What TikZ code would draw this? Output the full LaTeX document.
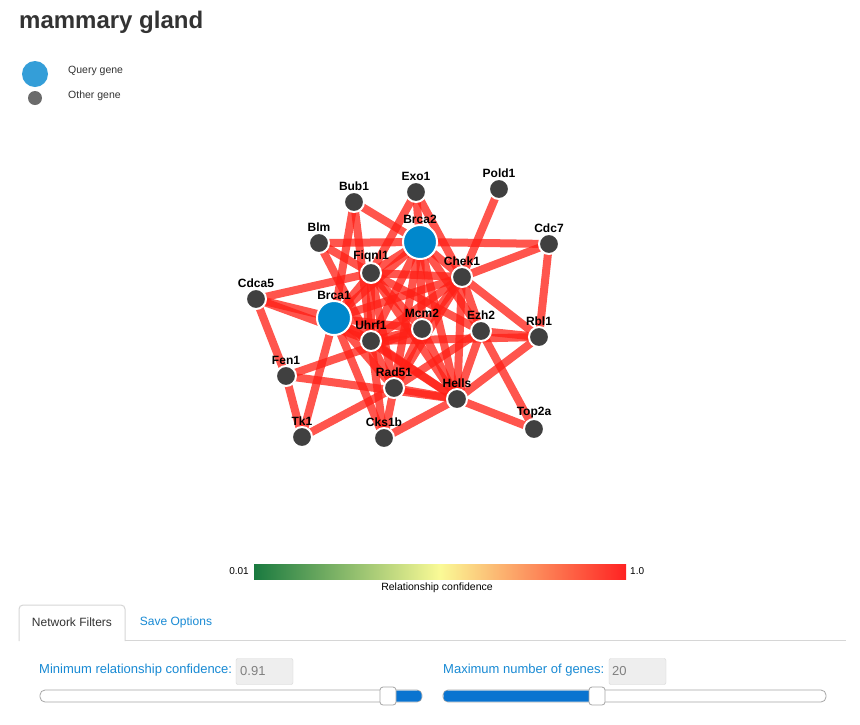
\documentclass[tikz,border=0pt]{standalone}
\usepackage{fontspec}
\setmainfont{Liberation Sans}
\usetikzlibrary{backgrounds}
\definecolor{edgered}{RGB}{255,32,22}
\definecolor{genegray}{RGB}{64,64,64}
\definecolor{queryblue}{RGB}{0,136,204}
\definecolor{legblue}{RGB}{52,158,216}
\definecolor{leggray}{RGB}{107,107,107}
\definecolor{txt}{RGB}{51,51,51}
\definecolor{linkblue}{RGB}{24,138,212}
\definecolor{barred}{RGB}{255,34,34}
\definecolor{bargreen}{RGB}{26,122,64}
\definecolor{baryellow}{RGB}{250,250,150}
\definecolor{boxgray}{RGB}{238,238,238}
\definecolor{bordergray}{RGB}{214,214,214}
\definecolor{sliderblue}{RGB}{10,116,208}
\tikzset{
  gene/.style={circle, fill=genegray, draw=white, line width=2pt, minimum size=20pt, inner sep=0pt},
  query/.style={circle, fill=queryblue, draw=white, line width=2pt, minimum size=34pt, inner sep=0pt},
  lbl/.style={font=\fontsize{12}{14}\selectfont\bfseries, text=black, inner sep=0pt},
  edge/.style={draw=edgered, line width=8pt, opacity=0.76},
  smalltxt/.style={font=\fontsize{10.5}{12}\selectfont, text=txt, inner sep=0pt},
  uitxt/.style={font=\fontsize{13}{15}\selectfont, inner sep=0pt},
  tabtxt/.style={font=\fontsize{12}{14}\selectfont, inner sep=0pt},
  inbox/.style={draw=bordergray, fill=boxgray, rounded corners=2pt, minimum width=57pt, minimum height=26pt, inner sep=0pt},
  track/.style={draw=gray!70, fill=white, rounded corners=5pt, line width=0.8pt},
  handle/.style={draw=gray!70, fill=white, rounded corners=3pt, minimum width=16pt, minimum height=18pt, inner sep=0pt, line width=0.8pt}
}
\begin{document}
\begin{tikzpicture}[x=1pt,y=-1pt]
\useasboundingbox (0,0) rectangle (860,724);
\begin{scope}[on background layer]
  \fill[white] (0,0) rectangle (860,724);
\end{scope}

% title
\node[anchor=west, font=\fontsize{24}{28}\selectfont\bfseries, text=txt, inner sep=0pt] (title) at (19,22) {mammary gland};

% legend
\node[circle, fill=legblue, minimum size=26pt, inner sep=0pt] (legq) at (35,74) {};
\node[circle, fill=leggray, minimum size=14pt, inner sep=0pt] (lego) at (35,98) {};
\node[smalltxt, anchor=west] (legqt) at (68,71) {Query gene};
\node[smalltxt, anchor=west] (legot) at (68,96) {Other gene};

% genes
\node[gene, label={[lbl]above:Bub1}] (Bub1) at (354,202) {};
\node[gene, label={[lbl]above:Exo1}] (Exo1) at (416,192) {};
\node[gene, label={[lbl]above:Pold1}] (Pold1) at (499,189) {};
\node[query, label={[lbl]above:Brca2}] (Brca2) at (420,242) {};
\node[gene, label={[lbl]above:Blm}] (Blm) at (319,243) {};
\node[gene, label={[lbl]above:Cdc7}] (Cdc7) at (549,244) {};
\node[gene, label={[lbl]above:Fiqnl1}] (Fiqnl1) at (371,273) {};
\node[gene, label={[lbl]above:Chek1}] (Chek1) at (462,277) {};
\node[gene, label={[lbl]above:Cdca5}] (Cdca5) at (256,299) {};
\node[query, label={[lbl]above:Brca1}] (Brca1) at (334,318) {};
\node[gene, label={[lbl]above:Mcm2}] (Mcm2) at (422,329) {};
\node[gene, label={[lbl]above:Ezh2}] (Ezh2) at (481,331) {};
\node[gene, label={[lbl]above:Rbl1}] (Rbl1) at (539,337) {};
\node[gene, label={[lbl]above:Uhrf1}] (Uhrf1) at (371,341) {};
\node[gene, label={[lbl]above:Fen1}] (Fen1) at (286,376) {};
\node[gene, label={[lbl]above:Rad51}] (Rad51) at (394,388) {};
\node[gene, label={[lbl]above:Hells}] (Hells) at (457,399) {};
\node[gene, label={[lbl]above:Top2a}] (Top2a) at (534,429) {};
\node[gene, label={[lbl]above:Tk1}] (Tk1) at (302,437) {};
\node[gene, label={[lbl]above:Cks1b}] (Cks1b) at (384,438) {};

% edges
\begin{scope}[on background layer]
  \foreach \a/\b in {
    Brca2/Bub1, Brca2/Exo1, Brca2/Blm, Brca2/Cdc7, Brca2/Fiqnl1, Brca2/Brca1,
    Brca2/Uhrf1, Brca2/Mcm2, Brca2/Chek1, Brca2/Ezh2, Brca2/Rad51, Brca2/Hells,
    Chek1/Exo1, Chek1/Pold1, Chek1/Cdc7, Chek1/Fiqnl1, Chek1/Brca1, Chek1/Uhrf1,
    Chek1/Mcm2, Chek1/Rad51, Chek1/Hells, Chek1/Ezh2, Chek1/Rbl1,
    Fiqnl1/Blm, Fiqnl1/Cdca5, Fiqnl1/Exo1, Fiqnl1/Brca1, Fiqnl1/Uhrf1,
    Fiqnl1/Mcm2, Fiqnl1/Ezh2, Fiqnl1/Hells, Fiqnl1/Rad51,
    Brca1/Cdca5, Brca1/Bub1, Brca1/Tk1, Brca1/Cks1b, Brca1/Rad51, Brca1/Uhrf1,
    Brca1/Mcm2, Brca1/Hells,
    Bub1/Uhrf1, Blm/Rad51,
    Cdca5/Uhrf1, Cdca5/Fen1,
    Fen1/Tk1, Fen1/Mcm2, Fen1/Hells,
    Tk1/Rad51,
    Cks1b/Uhrf1, Cks1b/Rad51, Cks1b/Hells,
    Rad51/Hells, Rad51/Ezh2, Rad51/Mcm2,
    Hells/Top2a, Hells/Rbl1, Hells/Ezh2, Hells/Mcm2, Hells/Uhrf1,
    Ezh2/Top2a, Ezh2/Rbl1,
    Rbl1/Cdc7, Rbl1/Uhrf1, Mcm2/Uhrf1}
  { \draw[edge] (\a.center) -- (\b.center); }
\end{scope}

% colour bar
\shade[left color=bargreen, right color=barred, middle color=baryellow] (254,564) rectangle (626,579);
\node[smalltxt, anchor=east, text=black, font=\fontsize{10}{12}\selectfont] (lo) at (249,571) {0.01};
\node[smalltxt, anchor=west, text=black, font=\fontsize{10}{12}\selectfont] (hi) at (630,571) {1.0};
\node[smalltxt, text=black] (barlabel) at (437,588) {Relationship confidence};

% tabs
\draw[bordergray, line width=1pt, rounded corners=4pt] (19,641) -- (19,605) -- (125,605) -- (125,641);
\draw[bordergray, line width=1pt] (125,640.5) -- (846,640.5);
\node[tabtxt, text=txt] (tab1) at (72,622) {Network Filters};
\node[tabtxt, text=linkblue] (tab2) at (176,622) {Save Options};

% controls
\node[uitxt, text=linkblue, anchor=west] (minlbl) at (39,670) {Minimum relationship confidence:};
\node[inbox] (minbox) at (264.5,671.5) {};
\node[uitxt, text=gray, anchor=west] (minval) at (240,671) {0.91};
\node[uitxt, text=linkblue, anchor=west] (maxlbl) at (443,670) {Maximum number of genes:};
\node[inbox] (maxbox) at (637.5,671.5) {};
\node[uitxt, text=gray, anchor=west] (maxval) at (612,671) {20};

% slider 1
\draw[track] (40,690) rectangle (422,702);
\fill[sliderblue, rounded corners=4pt] (388,690.5) rectangle (421.5,701.5);
\node[handle] (h1) at (388,696) {};
% slider 2
\draw[track] (443,690) rectangle (826,702);
\fill[sliderblue, rounded corners=4pt] (443.5,690.5) rectangle (597,701.5);
\node[handle] (h2) at (597,696) {};
\end{tikzpicture}
\end{document}
